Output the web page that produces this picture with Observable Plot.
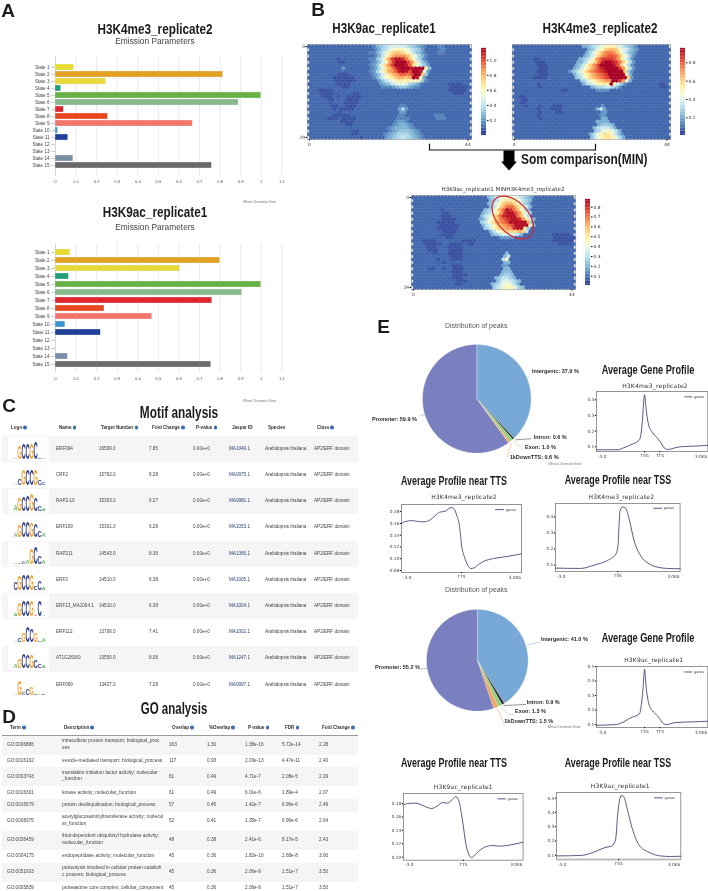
<!DOCTYPE html>
<html><head><meta charset="utf-8">
<script src="https://cdn.jsdelivr.net/npm/d3@7"></script>
<script src="https://cdn.jsdelivr.net/npm/@observablehq/plot@0.6"></script>
<style>
html,body{margin:0;padding:0;background:#fff}
#root{position:relative;width:708px;height:891px;overflow:hidden;background:#fff;filter:blur(0.3px)}
#root span.t{position:absolute;white-space:pre;line-height:1}
#root svg{position:absolute;max-width:none}
.stripe{position:absolute;background:#f5f5f5}
.hr{position:absolute;background:#999;height:.7px}
.q{display:inline-block;width:3.6px;height:3.6px;border-radius:50%;background:#3a6db5;margin-left:1.2px;vertical-align:-.3px}
</style></head><body><div id="root"></div>
<script>
// ---------- Panel A ----------
const states = ["State 1","State 2","State 3","State 4","State 5","State 6","State 7","State 8","State 9","State 10","State 11","State 12","State 13","State 14","State 15"];
const stateColors = ["#e4dc2f","#e3a122","#e8d93a","#1f9e78","#66b245","#88b98a","#df252d","#e8461f","#f0756b","#3d95cf","#21409a","#ffffff","#ffffff","#7b8fa6","#6a6a6a"];
const emissionK4 = [0.09,0.815,0.245,0.027,1.0,0.89,0.04,0.255,0.667,0.012,0.062,0,0,0.087,0.76];
const emissionK9 = [0.072,0.8,0.605,0.065,1.0,0.908,0.762,0.238,0.47,0.048,0.22,0,0,0.06,0.757];
const xTicksEmission = [0,.1,.2,.3,.4,.5,.6,.7,.8,.9,1,1.1];

// ---------- Panel B: SOM cells, one character per hexagon ----------
const levelChars = "0123456789abcdefghijklmn";
const somK9 = [
"22222 22222 22222 22235 67899 99876 54322 23322 22222",
"22222 22222 22222 22235 78abc cba87 64222 23322 22222",
"22222 22222 22222 22335 79cef feca8 65322 23322 22222",
"22222 22222 22222 22235 8begh hhfca 75322 22222 22222",
"22222 22212 22222 22336 8cgkm mlifb 86322 22222 22222",
"22222 22211 22222 22346 9chln nnkhd 96422 22222 22222",
"22222 22222 22222 22346 aehkn nnmje b8642 22222 22222",
"22222 22224 22222 22347 aegjm nnnmn nnc52 22222 22222",
"22222 22222 22222 22347 adghj mnmkn nma42 22222 22222",
"22222 22211 12222 22346 9cegh jjikn nf622 22222 22222",
"22222 22111 11122 22235 8acdf ggfgn mc422 22222 22222",
"22222 22111 11122 22224 689bc dcdcb c6322 22222 22222",
"22222 22211 11222 22222 45689 aa976 53222 22221 11122",
"22222 22221 12222 22222 33345 66543 32222 22221 11112",
"22211 11222 22222 22222 22222 22222 22222 22221 11112",
"22211 11222 22112 22222 22222 22222 22222 22222 11122",
"22221 11212 21111 22222 22222 22222 22222 22222 22222",
"22222 11222 11112 22222 22222 22222 22222 22222 22222",
"22222 21222 11112 22222 22222 22222 22222 22222 22222",
"22222 21122 11122 22222 22222 33222 22222 22222 22222",
"22222 22121 11122 22222 22222 47422 22222 22222 22222",
"22222 22212 22222 22222 22222 44222 22222 22222 22222",
"22222 22111 11222 22222 22222 33222 22222 33322 22222",
"22222 11121 11122 22222 22223 33322 22222 33322 22222",
"22222 22221 11122 22222 22223 44322 22222 22222 22222",
"22222 22222 11222 22222 22234 55432 22222 22222 22222",
"22222 22222 22222 22222 22345 55543 22222 22222 22222",
"22222 22222 22112 22222 22345 66654 32222 22222 22222",
"22222 22222 22112 22222 23456 77765 43222 22222 22222",
"22222 22222 22221 22222 24567 88765 43222 22222 22222"];
const somK4 = [
"22222 22222 22222 22222 44567 89aaa 87654 32222 22222",
"22222 22222 22222 22222 24579 acddc a8754 32222 22222",
"22222 22222 22222 22222 2468a ceffe c9754 32222 22222",
"22222 22222 22222 22222 4579c efggf da853 22222 22222",
"22222 21122 22222 22224 568ae ghhhg eb863 22222 22222",
"22222 21112 22222 22244 68acf ijjih fc963 22222 22222",
"22222 22111 22222 22245 7aceg jjjji gc963 22222 22222",
"22222 22111 22222 22457 9bdfh ijjjj hea63 22222 22222",
"22222 22111 22222 23568 acefg hijjj jjc53 22222 22222",
"22222 22111 22222 22467 abdef ghjjj jja42 22222 22222",
"22222 21111 22222 22256 8acde fghjj jjjc3 22222 22222",
"22222 22222 22222 22225 68abc deejj he842 22222 22222",
"22222 22122 22222 22222 4678a abaja 75322 22222 22112",
"22222 22122 22222 22222 22456 67765 32222 22222 22112",
"22222 22222 22221 12222 22223 33322 22222 22222 22222",
"22222 22222 22222 22222 22222 22222 22222 22222 22222",
"22112 22222 22222 22222 22222 22222 22222 22222 22222",
"22112 22222 22222 22222 22222 22222 22222 22222 22222",
"22112 22222 22222 22222 22222 22222 22222 22222 22222",
"22212 22122 21112 22222 22222 32222 22222 22222 22222",
"22222 22122 21112 22222 22224 74222 22222 22222 22222",
"22222 22122 22112 22222 22222 33222 22222 22222 22222",
"22222 22122 22222 22222 22222 33222 22222 22222 22222",
"22222 22122 22222 22222 22222 44222 22222 22222 22222",
"22222 22222 22222 22222 22224 44422 22222 22222 22222",
"22222 22222 22222 22222 22224 55542 22222 22222 22222",
"22222 22222 22222 22222 22246 77764 22222 22222 22222",
"22222 22222 22222 22222 22256 89986 42222 22222 22222",
"22222 22222 22222 22222 22468 abba7 53222 22222 22222",
"22222 22222 22222 22222 22579 abba8 64222 22222 22222"];
const somMin = [
"22222 22222 22222 22222 24567 88887 65432 22222 22222",
"22222 22222 22222 22222 24568 aaa98 65422 22222 22222",
"22222 22222 22222 22222 24579 bccb9 75422 22222 22222",
"22222 22222 22222 22222 2468b deeca 86422 22222 22222",
"22222 22212 22222 22222 4569c ehgec 96422 22222 22222",
"22222 22211 22222 22224 568ad ghhfd a7522 22222 22222",
"22222 22211 12222 22224 679be ghhhe c8622 22222 22222",
"22222 22211 11222 22234 68ace fghhg da742 22222 22222",
"22222 22111 11222 22225 68acd efhhh hhc42 22222 22222",
"22222 22111 11122 22224 679bc defhh hh942 22222 22222",
"22222 22111 11122 22222 568ab cddgh ha522 22222 22222",
"22222 22211 11222 22222 24689 abbbc b6222 22222 22222",
"22222 22211 11222 22222 22456 77776 42222 22221 11112",
"22222 22221 12222 22222 22223 33322 22222 22221 11111",
"22211 11222 22221 11122 22222 22222 22222 22221 11111",
"22211 11122 11112 11222 22222 22222 22222 22222 11112",
"22221 11222 11112 22222 22222 22222 22222 22222 22222",
"22221 11222 11112 22222 22222 22222 22222 22222 22222",
"22222 21222 11112 22222 22222 24222 22222 22222 22222",
"22222 22222 11112 22222 22222 46222 22222 22222 22222",
"22222 22122 21112 22222 22222 69222 22222 22222 22222",
"22222 22212 22222 22222 22222 44222 22222 22222 22222",
"22222 22222 21112 22222 22222 33222 22222 22222 22222",
"22221 12212 21112 22222 22222 44222 22222 22222 22222",
"22222 22222 21112 22222 22222 44422 22222 22222 22222",
"22222 22222 21111 22222 22224 55422 22222 22222 22222",
"22222 22222 21112 22222 22245 66542 22222 22222 22222",
"22222 22222 22111 22222 22246 77654 22222 22222 22222",
"22222 22222 22112 22222 22456 88864 22222 22222 22222",
"22222 22222 22222 22222 22567 99975 42222 22222 22222"];

// ---------- Panel C ----------
const motifHead = ["Logo","Name","Target Number","Fold Change","P-value","Jaspar ID","Species","Class"];
const motifNames = ["ERF094","CRF2","RAP2-10","ERF109","RAP211","ERF3","ERF13_MA1004.1","ERF112","AT1G28160","ERF069"];
const motifTargets = ["16599.0","15762.0","15303.0","15301.0","14543.0","14510.0","14510.0","13706.0","13550.0","13427.0"];
const motifFold = ["7.85","6.28","6.27","6.28","8.36","6.38","6.38","7.41","8.06","7.28"];
const motifJaspar = ["MA1049.1","MA0975.1","MA0980.1","MA1053.1","MA1366.1","MA1005.1","MA1004.1","MA1002.1","MA1247.1","MA0997.1"];
const logoLetters = ["AGCCGCCA","ACGCCGCC","AGCCGCCA","AGCCGCCA","ATCAGCCA","CGCCGCCA","AGCCGTCA","ACGCCGCA","AGCCGCCA","AGCCGCAC"];
const logoBits = [
[.2,1.5,1.7,1.7,1.7,1.9,.2,.1],
[.2,.7,1.7,1.7,1.7,1.8,.6,.3],
[.7,1.5,1.6,1.8,1.9,1.5,.6,.3],
[.5,1.3,1.7,1.8,1.6,1.5,.7,.5],
[.1,.2,.3,.5,1.8,1.9,.9,.4],
[.8,1.6,1.7,1.8,1.7,.4,1.0,.3],
[.3,1.5,1.7,1.7,1.7,.2,1.8,.1],
[.1,.4,1.0,1.8,1.4,1.0,.2,.4],
[.5,1.0,1.6,1.5,1.4,.8,.4,.3],
[.1,1.6,.3,.7,.9,.2,.2,.1]];
const baseNames = ["A","C","G","T"];
const baseColors = ["#6fb86a","#2f3f8f","#f0a830","#d9534f"];

// ---------- Panel D ----------
const goHead = ["Term","Description","Overlap","%Overlap","P-value","FDR","Fold Change"];
const goTerms = ["GO:0006886","GO:0016192","GO:0003743","GO:0016301","GO:0016579","GO:0008375","GO:0036459","GO:0004175","GO:0051603","GO:0005839"];
const goDesc = ["intracellular protein transport; biological_proc\ness","vesicle-mediated transport; biological_process","translation initiation factor activity; molecular\n_function","kinase activity; molecular_function","protein deubiquitination; biological_process","acetylglucosaminyltransferase activity; molecul\nar_function","thiol-dependent ubiquitinyl hydrolase activity;\nmolecular_function","endopeptidase activity; molecular_function","proteolysis involved in cellular protein cataboli\nc process; biological_process","proteasome core complex; cellular_component"];
const goOverlap = ["163","117","61","61","57","52","48","45","45","45"];
const goPct = ["1.30","0.93","0.49","0.49","0.45","0.41","0.38","0.36","0.36","0.36"];
const goP = ["1.38e-16","2.03e-13","4.71e-7","6.01e-6","1.42e-7","1.35e-7","2.41e-6","1.82e-10","2.06e-9","2.06e-9"];
const goFdr = ["5.72e-14","4.47e-11","2.08e-5","1.89e-4","6.96e-6","6.96e-6","8.17e-5","2.68e-8","1.51e-7","1.51e-7"];
const goFold = ["2.28","2.40","2.29","2.07","2.49","2.64","2.43","3.90","3.50","3.50"];

// ---------- Panel E ----------
const pieNames = ["Intergenic","Intron","Exon","1kDownTTS","Promoter"];
const pieColors = ["#78a9d6","#2b2b2b","#8fd07a","#f2a25c","#7a7fbf"];
const pieK4 = [37.9,0.6,1.0,0.6,59.9];
const pieK9 = [41.0,0.9,1.3,1.5,55.2];

const geneK4X = [0,18.75,24.7,30.7,38,39.6,41,43.2,44.9,47,50,54.5,57.4,61.9,64.9,69.3,75.3,87.2,100];
const geneK4Y = [.081,.081,.094,.113,.14,.166,.247,.432,.321,.236,.194,.157,.13,.087,.083,.091,.1,.104,.109];
const geneK9X = [0,17.3,24.7,30.7,38.7,40.2,41.7,43.2,44.6,47,50,54.5,57.4,60.4,62.8,70.8,87.2,100];
const geneK9Y = [.095,.1,.12,.147,.174,.233,.337,.481,.36,.244,.198,.163,.133,.105,.1,.114,.119,.123];
const ttsK4X = [0,3.1,8.6,14.2,18.3,23.9,28.1,31.7,36.4,41.4,43.3,46.1,48.3,50.3,52.5,55.3,57.8,60.6,64.2,68.3,76.7,87.8,100];
const ttsK4Y = [.1597,.163,.1647,.163,.1625,.1659,.1732,.1789,.1806,.1868,.1856,.1732,.1563,.1195,.1026,.0885,.0834,.0845,.0902,.0953,.1003,.1037,.1082];
const tssK4X = [0,20.3,31,41.7,48.4,50.3,50.9,51.9,53.7,56.4,59.1,63.1,68.4,75.1,81.8,89.8,100];
const tssK4Y = [.081,.079,.1,.129,.167,.23,.335,.44,.463,.454,.387,.251,.157,.108,.087,.079,.077];
const ttsK9X = [0,3.3,10.3,17.3,23.4,28.4,32.6,36.8,40.9,43.7,46.5,49.3,52.1,54.9,56.8,60.4,64.6,68,74.4,81.3,89.7,100];
const ttsK9Y = [.1776,.18,.1806,.1761,.1726,.1766,.1816,.1806,.186,.1905,.1826,.1552,.1204,.103,.0995,.1045,.1114,.1149,.1174,.1164,.1184,.1224];
const tssK9X = [0,19.3,30,38.1,44.8,47.5,49.3,52,54.2,56.8,60.9,66.2,74.3,83.6,91.7,100];
const tssK9Y = [.095,.098,.121,.151,.167,.209,.393,.518,.509,.428,.289,.174,.121,.095,.091,.093];

// ---------- helpers ----------
const root = document.getElementById("root");
const SANS = '"Liberation Sans",Arial,sans-serif';
const DEJA = '"DejaVu Sans",sans-serif';
function put(node,left,top){node.style.left=left+"px";node.style.top=top+"px";root.appendChild(node);return node;}
function label(text,x,y,o={}){
  const s=document.createElement("span");s.className="t";s.textContent=text;
  s.style.left=x+"px";s.style.top=y+"px";
  s.style.fontFamily=o.font||SANS;s.style.fontSize=(o.size||5)+"px";s.style.fontWeight=o.weight||"normal";
  s.style.color=o.color||"#444";
  if(o.lh)s.style.lineHeight=o.lh+"px";
  if(o.spacing)s.style.letterSpacing=o.spacing+"px";
  const ax=o.anchor==="start"?"0":o.anchor==="end"?"-100%":"-50%";
  s.style.transformOrigin=o.anchor==="start"?"0 50%":"50% 50%";
  s.style.transform=`translate(${ax},-50%)`+(o.sx?` scaleX(${o.sx})`:"");
  root.appendChild(s);return s;
}
function box(cls,l,t,w,h){const d=document.createElement("div");d.className=cls;d.style.left=l+"px";d.style.top=t+"px";d.style.width=w+"px";if(h!=null)d.style.height=h+"px";root.appendChild(d);}
const bigTitle=(t,x,y,size,sx,anchor)=>label(t,x,y,{weight:"bold",size,sx,anchor,color:"#1c1c1c"});

// --- emission bars
function bars(values,yTop,step,axisY,title,titleY,subY,offset){
  const data=states.map((s,i)=>({s,v:values[i]}));
  const H=Math.ceil(axisY+6);
  const plot=Plot.plot({width:294,height:H,marginLeft:55,marginRight:294-281.3,marginTop:yTop,marginBottom:H-(yTop+15*step),
    style:{background:"transparent",fontFamily:SANS,fontSize:"4.6px",color:"#444"},
    x:{domain:[0,1.1],axis:null},
    y:{domain:states,paddingInner:.2,paddingOuter:.1,axis:null},
    color:{domain:states,range:stateColors},
    marks:[
      Plot.gridX(xTicksEmission,{stroke:"#e4e6ec",strokeOpacity:1,strokeWidth:.9}),
      Plot.ruleX([0],{stroke:"#c4d0e2",strokeWidth:.8}),
      Plot.axisY({anchor:"left",label:null,tickSize:4,tickPadding:2,stroke:"#c4d0e2",fontSize:4.6,fill:"#444"}),
      Plot.barX(data,{x:"v",y:"s",fill:"s",stroke:"#eceef2",strokeWidth:.35}),
      Plot.axisX(xTicksEmission,{anchor:"bottom",label:null,tickSize:0,tickPadding:axisY-(yTop+15*step)-2,fontSize:4.2,fill:"#555",tickFormat:d=>String(+d.toFixed(1))})
    ]});
  put(plot,0,offset);
  bigTitle(title,155,titleY,14,.84);
  label("Emission Parameters",155,subY,{size:8.4,color:"#444"});
}
bars(emissionK4,56.3,7.93,181.7,"H3K4me3_replicate2",29,41,0);
bars(emissionK9,53.7,8.57,189,"H3K9ac_replicate1",212,227,190);

// --- SOM
function cells(rows,vmax){
  const level=c=>{const n=levelChars.indexOf(c);return n===2?vmax*.08:n===1?vmax*.045:n*.05;};
  const out=[];
  rows.forEach((r,j)=>{[...r.replace(/ /g,"")].forEach((c,i)=>out.push({i:i+(j%2?.5:0),j,v:level(c)}));});
  return out;
}
function som(rows,x,y,w,h,vmax,opts={}){
  const ml=12,mr=2,mt=2,mb=10;
  const marks=[
    Plot.frame({stroke:"#b0b0b0",strokeWidth:1.1}),
    Plot.dot(cells(rows,vmax),{x:"i",y:"j",r:1.8,symbol:"hexagon",fill:"v",stroke:"v",strokeWidth:.45}),
    Plot.axisX([0,44],{anchor:"bottom",tickSize:1.5,tickPadding:1.5,fontSize:4.4,fill:"#333",label:null})
  ];
  if(opts.leftAxis)marks.push(Plot.axisY([0,29],{anchor:"left",tickSize:1.5,tickPadding:1,fontSize:4.4,fill:"#333",label:null}));
  const plot=Plot.plot({width:w+ml+mr,height:h+mt+mb,marginLeft:ml,marginRight:mr,marginTop:mt,marginBottom:mb,
    style:{background:"transparent",fontFamily:DEJA},
    x:{domain:[-.5,45],axis:null},y:{domain:[-.67,29.67],reverse:true,axis:null},
    color:{type:"linear",scheme:"RdYlBu",reverse:true,domain:[0,vmax]},marks});
  put(plot,x-ml,y-mt);
}
function colorbar(x,y,w,h,lo,hi,vmax,ticks){
  const st=(hi-lo)/60,ramp=d3.range(lo,hi,st);
  const plot=Plot.plot({width:w+16,height:h+4,marginLeft:0,marginRight:16,marginTop:2,marginBottom:2,
    style:{background:"transparent",fontFamily:DEJA},
    x:{domain:[0,1],axis:null},y:{domain:[lo,hi],axis:null},
    color:{type:"linear",scheme:"RdYlBu",reverse:true,domain:[0,vmax]},
    marks:[
      Plot.rect(ramp,{x1:0,x2:1,y1:d=>d,y2:d=>d+st*1.1,fill:d=>d}),
      Plot.axisY(ticks,{anchor:"right",tickSize:1.5,tickPadding:1.5,fontSize:4.4,fill:"#333",label:null,tickFormat:d=>d.toFixed(1)})
    ]});
  put(plot,x,y-2);
}
som(somK9,307,44,164,95,1.156,{leftAxis:true});
som(somK4,512,44,158,95,.956);
som(somMin,411,195,164,94,.878,{leftAxis:true});
colorbar(481,48,5,87,0,1.156,1.156,[.2,.4,.6,.8,1.0]);
colorbar(680,48,5,87,.007,.956,.956,[.2,.4,.6,.8]);
colorbar(585,199,5,86,.006,.878,.878,[.1,.2,.3,.4,.5,.6,.7,.8]);
bigTitle("H3K9ac_replicate1",384,28,14,.83);
bigTitle("H3K4me3_replicate2",600,28,14,.84);
bigTitle("Som comparison(MIN)",521,159,15.4,.775,"start");
label("H3K9ac_replicate1 MINH3K4me3_replicate2",503,190,{font:DEJA,size:5.6,color:"#333"});

// --- Panel letters
[["A",8,10],["B",318,9],["C",9,405],["D",9,716],["E",383.5,326]].forEach(([t,x,y])=>label(t,x,y,{font:SANS,weight:"bold",size:19,color:"#1c1c1c"}));
[[259.5,203],[259.5,402],[565,465],[564,728]].forEach(([x,y])=>label("Wheat Chromatin State",x,y,{size:3.2,color:"#777"}));

// --- Motif table
bigTitle("Motif analysis",179,413,16,.74);
const motifHeadX=[11,59,101,152,196,232,268,317];
motifHead.forEach((h,i)=>{const s=label(h,motifHeadX[i],428,{anchor:"start",size:4.6,weight:"bold",color:"#333"});
  if(i!==5&&i!==6){const q=document.createElement("i");q.className="q";s.appendChild(q);}});
box("hr",2,435.5,356);
const motifRowY=motifNames.map((_,i)=>448.7+i*26.2);
motifNames.forEach((n,i)=>{
  const y=motifRowY[i];
  if(i%2===0)box("stripe",2,y-12.7,356,26.0);
  label(n,56,y,{anchor:"start",size:4.6});
  label(motifTargets[i],99,y,{anchor:"start",size:4.6});
  label(motifFold[i],149,y,{anchor:"start",size:4.6});
  label("0.00e+0",193,y,{anchor:"start",size:4.6});
  label(motifJaspar[i],229,y,{anchor:"start",size:4.6,color:"#2b3f78"});
  label("Arabidopsis thaliana",265,y,{anchor:"start",size:4.6});
  label("AP2/ERF domain",314,y,{anchor:"start",size:4.6});
  // sequence logo
  const letters=[...logoLetters[i]].map((c,k)=>({k,c,bits:logoBits[i][k]}));
  const logo=Plot.plot({width:41,height:24,marginLeft:4,marginRight:3,marginTop:1,marginBottom:3,
    style:{background:"#fff",overflow:"visible"},
    x:{domain:d3.range(8),axis:null,padding:.02},
    y:{domain:[0,2],axis:null},
    color:{domain:baseNames,range:baseColors},
    marks:[
      Plot.text(letters,{x:"k",y:()=>0,text:"c",fill:"c",lineAnchor:"bottom",fontWeight:"bold",fontFamily:SANS,
        fontSize:d=>Math.max(1,d.bits*9*1.39),
        render(index,scales,values,dims,ctx,next){
          const g=next(index,scales,values,dims,ctx);
          g.querySelectorAll("text").forEach(t=>{
            const fs=parseFloat(t.getAttribute("font-size"))||10;
            t.setAttribute("transform",(t.getAttribute("transform")||"")+` scale(${4.4/(fs*.75)},1)`);
          });
          return g;
        }})
    ]});
  put(logo,8,y-12);
});

// --- GO table
bigTitle("GO analysis",174,709,16,.72);
const goHeadX=[10,64,172,209,248,285,322];
goHead.forEach((h,i)=>{const s=label(h,goHeadX[i],728,{anchor:"start",size:4.6,weight:"bold",color:"#333"});
  const q=document.createElement("i");q.className="q";s.appendChild(q);});
box("hr",2,735,356);
const goRowY=[745.3,761,776.7,792.7,805.3,821.3,840.3,856,872,887.7];
const goRowEdges=[735.5,754.7,767.3,786,799.3,812,830.7,850,862.7,881.7,900];
goTerms.forEach((t,i)=>{
  const y=goRowY[i];
  if(i%2===0)box("stripe",2,goRowEdges[i],356,goRowEdges[i+1]-goRowEdges[i]);
  label(t,7,y,{anchor:"start",size:4.7});
  label(goDesc[i],62,y,{anchor:"start",size:4.9,lh:6.6});
  label(goOverlap[i],169,y,{anchor:"start",size:4.7});
  label(goPct[i],207,y,{anchor:"start",size:4.7});
  label(goP[i],245,y,{anchor:"start",size:4.7});
  label(goFdr[i],282,y,{anchor:"start",size:4.7});
  label(goFold[i],319,y,{anchor:"start",size:4.7});
});

// --- Pies
function pie(values,cx,cy,r,leaders,labels,titleY){
  const arcs=d3.pie().sort(null)(values);
  const pts=[];
  arcs.forEach((a,i)=>{
    pts.push({n:pieNames[i],x:0,y:0});
    const steps=Math.max(2,Math.ceil((a.endAngle-a.startAngle)/.03));
    for(let k=0;k<=steps;k++){const t=a.startAngle+(a.endAngle-a.startAngle)*k/steps;pts.push({n:pieNames[i],x:Math.sin(t),y:Math.cos(t)});}
    pts.push({n:pieNames[i],x:0,y:0});
  });
  const plot=Plot.plot({width:2*r+4,height:2*r+4,margin:2,
    style:{background:"transparent"},
    x:{domain:[-1,1],axis:null},y:{domain:[-1,1],axis:null},
    color:{domain:pieNames,range:pieColors},
    marks:[Plot.line(pts,{x:"x",y:"y",z:"n",fill:"n",stroke:"#eef0f6",strokeWidth:.3})]});
  put(plot,cx-r-2,cy-r-2);
  label("Distribution of peaks",476.3,titleY,{size:6.9,color:"#555"});
  labels.forEach(([t,x,y])=>label(t,x,y,{anchor:"start",size:5.5,weight:"bold",color:"#2a2a2a"}));
  return leaders;
}
const leaderK4=pie(pieK4,476.7,398,54.3,[
  ["Intergenic",[[528.3,376.7],[525,378.3]]],["Promoter",[[420,415],[425,414]]],
  ["Intron",[[515,439.3],[530,438.3]]],["Exon",[[513.3,440.7],[521.7,448.3]]],["1kDownTTS",[[510.7,442.7],[506.7,456.7]]]
],[["Intergenic: 37.9 %",532,371.7],["Promoter: 59.9 %",372,420],["Intron: 0.6 %",533.7,438],["Exon: 1.0 %",525,447.7],["1kDownTTS: 0.6 %",509.7,457.7]],326.3);
const leaderK9=pie(pieK9,476.7,659.7,50.8,[
  ["Intergenic",[[526.7,644.3],[539.3,641.7]]],["Promoter",[[420,668.7],[426,667.7]]],
  ["Intron",[[503.3,705],[525,704]]],["Exon",[[500,706],[508.3,714],[513.3,714]]],["1kDownTTS",[[496.7,707.7],[503.3,723.3]]]
],[["Intergenic: 41.0 %",541,640],["Promoter: 55.2 %",375,667.7],["Intron: 0.9 %",526.7,702.7],["Exon: 1.3 %",515,712],["1kDownTTS: 1.5 %",504.3,721.7]],590.3);

// --- Profile line charts
function profile(xs,ys,f){
  const ml=22,mr=4,mt=3,mb=10;
  const data=xs.map((x,i)=>({x,y:ys[i]}));
  const [lo,hi]=f.domain;
  const lx=f.legend, ly=hi-(hi-lo)*f.legendY;
  const plot=Plot.plot({width:f.w+ml+mr,height:f.h+mt+mb,marginLeft:ml,marginRight:mr,marginTop:mt,marginBottom:mb,
    style:{background:"transparent",fontFamily:DEJA},
    x:{domain:[0,100],axis:null},y:{domain:f.domain,axis:null},
    marks:[
      Plot.frame({stroke:"#8a8a8a",strokeWidth:.9}),
      f.thick?Plot.ruleY([lo],{stroke:"#bdbdbd",strokeWidth:2.2}):null,
      Plot.axisY(f.ticks,{anchor:"left",tickSize:1.2,tickPadding:1,fontSize:4.3,fill:"#444",label:null,tickFormat:d=>d.toFixed(f.dec)}),
      Plot.axisX(f.xTicks.map(t=>t[0]),{anchor:"bottom",tickSize:1.2,tickPadding:1.2,fontSize:4.3,fill:"#444",label:null,tickFormat:d=>f.xTicks.find(t=>t[0]===d)[1]}),
      Plot.text(["-3.0"],{x:()=>0,y:()=>lo,textAnchor:"start",lineAnchor:"top",dy:3,dx:1.5,fontSize:4.3,fill:"#444"}),
      Plot.text(["3.0Kb"],{x:()=>100,y:()=>lo,textAnchor:"end",lineAnchor:"top",dy:3,dx:-.5,fontSize:4.3,fill:"#444"}),
      Plot.line(data,{x:"x",y:"y",curve:"monotone-x",stroke:"#3e3a74",strokeWidth:.85}),
      Plot.link([0],{x1:()=>lx[0],x2:()=>lx[1],y1:()=>ly,y2:()=>ly,stroke:"#3e3a74",strokeWidth:.85}),
      Plot.text(["genes"],{x:()=>lx[1],y:()=>ly,dx:1.8,textAnchor:"start",fontSize:3.4,fill:"#333"})
    ]});
  put(plot,f.x-ml,f.y-mt);
  bigTitle(f.title,f.tx,f.ty,12.6,f.tsx);
  label(f.sub,f.sx,f.sy,{font:DEJA,size:6,color:"#333",spacing:.18});
}
const TSS=[[43.2,"TSS"],[57,"TTS"]];
profile(geneK4X,geneK4Y,{x:595.7,y:391,w:111.3,h:60,domain:[.07,.453],ticks:[.1,.2,.3,.4],dec:1,xTicks:TSS,legend:[79,86],legendY:.09,
  title:"Average Gene Profile",tx:648.3,ty:370,tsx:.73,sub:"H3K4me3_replicate2",sx:655,sy:386});
profile(geneK9X,geneK9Y,{x:595.7,y:666.3,w:111.3,h:61,domain:[.08,.5],ticks:[.1,.2,.3,.4,.5],dec:1,xTicks:TSS,legend:[79,86],legendY:.09,
  title:"Average Gene Profile",tx:648.3,ty:638.3,tsx:.73,sub:"H3K9ac_replicate1",sx:653.7,sy:660.3});
profile(ttsK4X,ttsK4Y,{x:401.3,y:504,w:120,h:68,domain:[.0766,.192],ticks:[.08,.10,.12,.14,.16,.18],dec:2,xTicks:[[50,"TTS"]],legend:[78,85.5],legendY:.075,
  title:"Average Profile near TTS",tx:454,ty:481,tsx:.71,sub:"H3K4me3_replicate2",sx:464,sy:497.3});
profile(tssK4X,tssK4Y,{x:554.7,y:503.3,w:124.6,h:68,domain:[.06,.484],ticks:[.1,.2,.3,.4],dec:1,xTicks:[[50,"TSS"]],legend:[78.5,85.5],legendY:.07,
  title:"Average Profile near TSS",tx:618.3,ty:480.3,tsx:.71,sub:"H3K4me3_replicate2",sx:621.3,sy:497});
profile(ttsK9X,ttsK9Y,{x:402.7,y:793.3,w:119.6,h:66.7,domain:[.0955,.195],ticks:[.10,.12,.14,.16,.18],dec:2,xTicks:[[50,"TTS"]],legend:[78.5,85.5],legendY:.08,
  title:"Average Profile near TTS",tx:454,ty:763.3,tsx:.71,sub:"H3K9ac_replicate1",sx:463.3,sy:787.3});
profile(tssK9X,tssK9Y,{x:556,y:792.3,w:124.3,h:67,domain:[.07,.54],ticks:[.1,.2,.3,.4,.5],dec:1,thick:true,xTicks:[[50,"TSS"]],legend:[78.5,85.5],legendY:.08,
  title:"Average Profile near TSS",tx:618.3,ty:763.3,tsx:.71,sub:"H3K9ac_replicate1",sx:620.3,sy:785.7});

// --- page-level annotations (bracket, arrow, ellipse, pie leader lines)
const bracket=[[429,143.5],[429,149.5],[595,149.5],[595,143.5]].map(([x,y])=>({x,y}));
const arrow=[[503,150],[514,150],[514,161],[516.5,161],[508.5,170],[500.5,161],[503,161]].map(([x,y])=>({x,y}));
const ell=d3.range(0,361,6).map(a=>{const t=a*Math.PI/180,c=Math.cos(47*Math.PI/180),s=Math.sin(47*Math.PI/180),A=25.5*Math.cos(t),B=15.5*Math.sin(t);return {x:512.3+A*c-B*s,y:217+A*s+B*c};});
const leaderRows=[...leaderK4,...leaderK9].flatMap(([n,p],k)=>p.map(([x,y])=>({k,n,x,y})));
put(Plot.plot({width:708,height:891,margin:0,style:{background:"transparent"},
  x:{domain:[0,708],axis:null},y:{domain:[0,891],reverse:true,axis:null},
  color:{domain:pieNames,range:pieColors},
  marks:[
    Plot.line(leaderRows,{x:"x",y:"y",z:"k",stroke:"n",strokeWidth:.5}),
    Plot.line(bracket,{x:"x",y:"y",stroke:"#111",strokeWidth:1.2,strokeLinejoin:"round"}),
    Plot.line(arrow,{x:"x",y:"y",fill:"#000",stroke:"none"}),
    Plot.line(ell,{x:"x",y:"y",stroke:"#d4242a",strokeWidth:1.2})
  ]}),0,0);
</script></body></html>
